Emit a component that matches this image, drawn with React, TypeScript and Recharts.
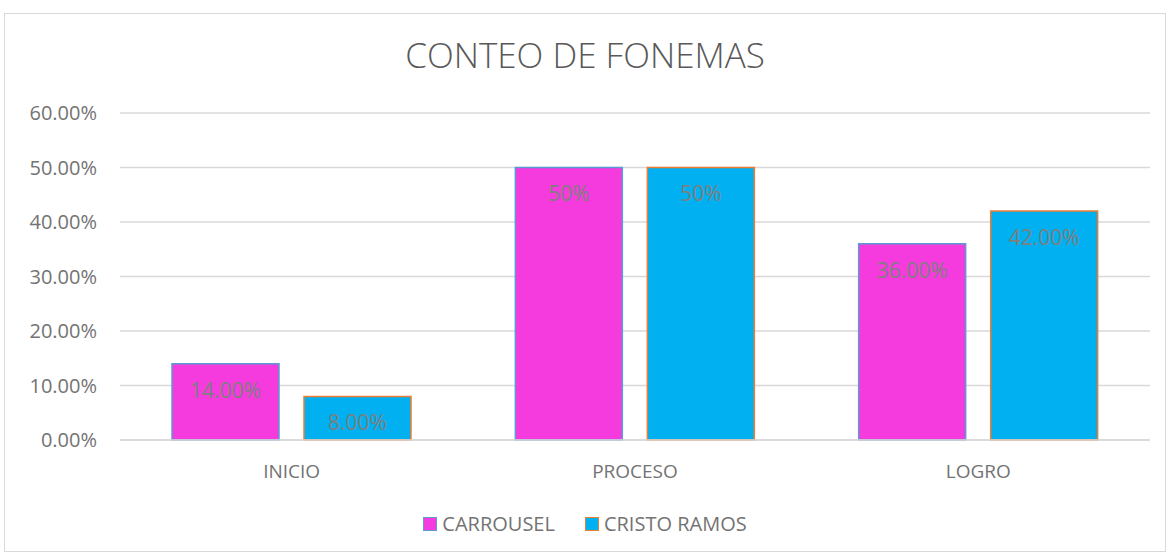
import * as React from "react";
import {
	Bar,
	BarChart,
	CartesianGrid,
	LabelList,
	Legend,
	XAxis,
	YAxis,
} from "recharts";

const categories = ["INICIO", "PROCESO", "LOGRO"];
const carrousel = [0.14, 0.5, 0.36];
const cristoRamos = [0.08, 0.5, 0.42];
const carrouselLabels = ["14.00%", "50%", "36.00%"];
const cristoRamosLabels = ["8.00%", "50%", "42.00%"];
const yTicks = [0, 0.1, 0.2, 0.3, 0.4, 0.5, 0.6];

const FONT = "'Open Sans', 'Noto Sans', sans-serif";
const MAGENTA = "#F53BDE";
const CYAN = "#00B0F0";
const BLUE_EDGE = "#5B9BD5";
const ORANGE_EDGE = "#ED7D31";
const TEXT = "#737373";

const data = categories.map((name, i) => ({
	name,
	carrousel: carrousel[i],
	cristoRamos: cristoRamos[i],
	carrouselLabel: carrouselLabels[i],
	cristoRamosLabel: cristoRamosLabels[i],
}));

const series = [
	{ name: "CARROUSEL", fill: MAGENTA, stroke: BLUE_EDGE },
	{ name: "CRISTO RAMOS", fill: CYAN, stroke: ORANGE_EDGE },
];

function LegendBox(): React.JSX.Element {
	return (
		<div
			style={{
				display: "flex",
				justifyContent: "center",
				gap: 30,
				fontFamily: FONT,
				fontSize: 20,
				color: TEXT,
			}}
		>
			{series.map((s) => (
				<div key={s.name} style={{ display: "flex", alignItems: "center" }}>
					<span
						style={{
							display: "inline-block",
							width: 12,
							height: 12,
							background: s.fill,
							border: `1.5px solid ${s.stroke}`,
							marginRight: 5,
						}}
					/>
					{s.name}
				</div>
			))}
		</div>
	);
}

export default function App(): React.JSX.Element {
	return (
		<div style={{ position: "absolute", left: 0, top: 0, width: 1170, height: 556 }}>
			<div
				style={{
					position: "absolute",
					left: 4,
					top: 13,
					width: 1160,
					height: 537,
					border: "1px solid #d9d9d9",
				}}
			/>
			<div
				style={{
					position: "absolute",
					left: 0,
					top: 31,
					width: 1170,
					textAlign: "center",
					fontFamily: FONT,
					fontSize: 35,
					fontWeight: 300,
					color: "#595959",
				}}
			>
				CONTEO DE FONEMAS
			</div>
			<div style={{ position: "absolute", left: 0, top: 0 }}>
				<BarChart
					width={1170}
					height={556}
					data={data}
					margin={{ top: 113, right: 20, bottom: 76, left: 0 }}
					barCategoryGap={52}
					barGap={25}
				>
					<CartesianGrid vertical={false} stroke="#d9d9d9" strokeWidth={1.5} />
					<XAxis
						dataKey="name"
						height={40}
						tickLine={false}
						tickSize={0}
						tickMargin={25}
						axisLine={{ stroke: "#d9d9d9", strokeWidth: 1.5 }}
						tick={{ fill: TEXT, fontSize: 19, fontFamily: FONT }}
					/>
					<YAxis
						width={120}
						domain={[0, 0.6]}
						ticks={yTicks}
						axisLine={false}
						tickLine={false}
						tickSize={0}
						tickMargin={23}
						tickFormatter={(v: number) => `${(v * 100).toFixed(2)}%`}
						tick={{ fill: TEXT, fontSize: 20, fontFamily: FONT }}
					/>
					<Legend
						verticalAlign="middle"
						align="center"
						layout="horizontal"
						wrapperStyle={{ top: 510, left: 0, width: 1170 }}
						content={() => <LegendBox />}
					/>
					<Bar
						dataKey="carrousel"
						name={series[0].name}
						fill={MAGENTA}
						stroke={BLUE_EDGE}
						strokeWidth={1.5}
						isAnimationActive={false}
					>
						<LabelList
							dataKey="carrouselLabel"
							position="insideTop"
							offset={19}
							fill="#7f7f7f"
							fontSize={21}
							fontFamily={FONT}
						/>
					</Bar>
					<Bar
						dataKey="cristoRamos"
						name={series[1].name}
						fill={CYAN}
						stroke={ORANGE_EDGE}
						strokeWidth={1.5}
						isAnimationActive={false}
					>
						<LabelList
							dataKey="cristoRamosLabel"
							position="insideTop"
							offset={19}
							fill="#7f7f7f"
							fontSize={21}
							fontFamily={FONT}
						/>
					</Bar>
				</BarChart>
			</div>
		</div>
	);
}
